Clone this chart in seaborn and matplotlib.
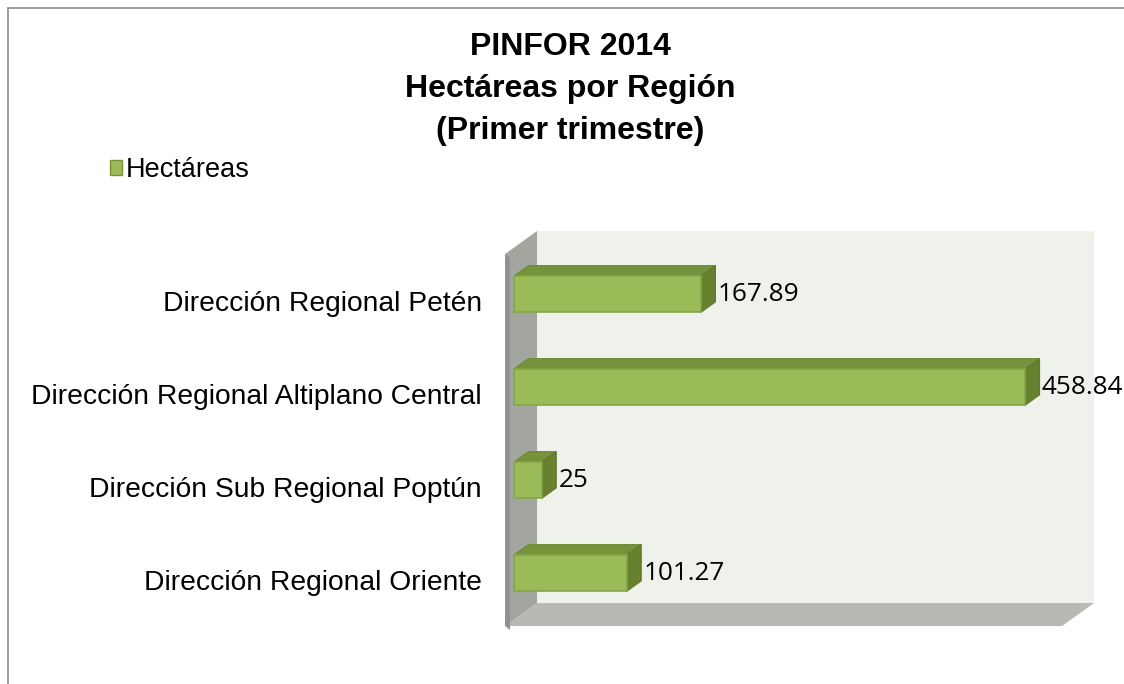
import matplotlib
matplotlib.use("Agg")
import matplotlib.pyplot as plt
import matplotlib.transforms as mtransforms
from matplotlib.patches import Polygon, Patch
from matplotlib.lines import Line2D
import seaborn as sns
import pandas as pd

# ---- data ----
regions = [
    "Dirección Regional Petén",
    "Dirección Regional Altiplano Central",
    "Dirección Sub Regional Poptún",
    "Dirección Regional Oriente",
]
hectareas = [167.89, 458.84, 25, 101.27]
value_labels = ["167.89", "458.84", "25", "101.27"]
series_name = "Hectáreas"
title_lines = ["PINFOR 2014", "Hectáreas por Región", "(Primer trimestre)"]
x_max = 500

# ---- style ----
sns.set_theme(style="white")
plt.rcParams['font.family'] = ['Liberation Sans', 'DejaVu Sans']
plt.rcParams['text.color'] = 'black'
plt.rcParams['ytick.color'] = 'black'
plt.rcParams['axes.labelcolor'] = 'black'

W, H = 1124, 684
DPI = 100
fig = plt.figure(figsize=(W / DPI, H / DPI), dpi=DPI)
fig.patch.set_facecolor("white")

# axes = plane of bar front faces (pixel layout)
left_px, right_px = 514, 1071
top_px, bot_px = 247.6, 619.6
ax = fig.add_axes([left_px / W, 1 - bot_px / H,
                   (right_px - left_px) / W, (bot_px - top_px) / H])

df = pd.DataFrame({"region": regions, "value": hectareas})
sns.barplot(data=df, x="value", y="region", orient="h", color="#9BBB59",
            saturation=1, width=0.39, edgecolor="#86A64A", linewidth=1.2,
            ax=ax, zorder=5)
ax.set_xlim(0, x_max)
ax.set_ylim(3.5, -0.5)
ax.set_xlabel("")
ax.set_ylabel("")
ax.set_xticks([])
for s in ax.spines.values():
    s.set_visible(False)
ax.set_facecolor("none")
ax.tick_params(axis="y", length=0, pad=23, labelsize=20.3, labelcolor="black")

bars = list(ax.patches)

# depth vector (display px) for the full chart depth; front-face plane at 0.28
DX, DY = 32.0, 23.0
f_front = 0.28
bdepth = 0.45
to_disp = ax.transData.transform

# category labels sit on the front plane of the chart
lab_shift = mtransforms.Affine2D().translate(0, -f_front * DY)
for t in ax.get_yticklabels():
    t.set_transform(t.get_transform() + lab_shift)

# walls
(x0d, y_top), = to_disp([(0, -0.5)])
(x1d, y_bot), = to_disp([(x_max, 3.5)])
bx_back, by_back = (1 - f_front) * DX, (1 - f_front) * DY
fx, fy = -f_front * DX, -f_front * DY
ident = mtransforms.IdentityTransform()

back = Polygon([(x0d + bx_back, y_bot + by_back), (x1d + bx_back, y_bot + by_back),
                (x1d + bx_back, y_top + by_back), (x0d + bx_back, y_top + by_back)],
               closed=True, facecolor="#EFF1EB", edgecolor="none",
               transform=ident, clip_on=False, zorder=0.1)
floor = Polygon([(x0d + fx, y_bot + fy), (x1d + fx, y_bot + fy),
                 (x1d + bx_back, y_bot + by_back), (x0d + bx_back, y_bot + by_back)],
                closed=True, facecolor="#B7B9B3", edgecolor="none",
                transform=ident, clip_on=False, zorder=0.2)
side = Polygon([(x0d + fx, y_bot + fy), (x0d + bx_back, y_bot + by_back),
                (x0d + bx_back, y_top + by_back), (x0d + fx, y_top + fy)],
               closed=True, facecolor="#A3A59F", edgecolor="none",
               transform=ident, clip_on=False, zorder=0.3)
side_edge = Polygon([(x0d + fx, y_bot + fy), (x0d + fx + 5, y_bot + fy - 4),
                     (x0d + fx + 5, y_top + fy - 4), (x0d + fx, y_top + fy)],
                    closed=True, facecolor="#8F918B", edgecolor="none",
                    transform=ident, clip_on=False, zorder=0.35)
for p in (back, floor, side, side_edge):
    ax.add_patch(p)

# 3D faces of bars
bdx, bdy = bdepth * DX, bdepth * DY
for p in bars:
    (xa, ya), (xb, yb) = to_disp([(p.get_x(), p.get_y()),
                                  (p.get_x() + p.get_width(), p.get_y() + p.get_height())])
    xl, xr = min(xa, xb), max(xa, xb)
    ylo, yhi = min(ya, yb), max(ya, yb)
    top = Polygon([(xl, yhi), (xr, yhi), (xr + bdx, yhi + bdy), (xl + bdx, yhi + bdy)],
                  closed=True, facecolor="#76933C", edgecolor="#6E8A36", linewidth=0.8,
                  transform=ident, clip_on=False, zorder=4)
    rside = Polygon([(xr, ylo), (xr, yhi), (xr + bdx, yhi + bdy), (xr + bdx, ylo + bdy)],
                    closed=True, facecolor="#67812F", edgecolor="#5F782B", linewidth=0.8,
                    transform=ident, clip_on=False, zorder=4)
    ax.add_patch(top)
    ax.add_patch(rside)
    p.set_clip_on(False)

# data labels
for i, (v, lab) in enumerate(zip(hectareas, value_labels)):
    ax.annotate(lab, xy=(v, i), xytext=((bdx + 2) * 72 / DPI, 0),
                textcoords="offset points", ha="left", va="center",
                fontsize=18.8, family=["Open Sans", "DejaVu Sans"], color="black",
                annotation_clip=False, zorder=6)

# title
fig.text(570 / W, 1 - 32 / H, "\n".join(title_lines), ha="center", va="top",
         fontsize=23, fontweight="bold", linespacing=1.52, color="black")

# legend
handle = Patch(facecolor="#9BBB59", edgecolor="#76933C", linewidth=1)
fig.legend(handles=[handle], labels=[series_name], loc="center left",
           bbox_to_anchor=(110 / W, 1 - 170 / H), frameon=False,
           fontsize=19.5, handlelength=0.45, handleheight=0.45,
           handletextpad=0.12, borderaxespad=0, borderpad=0,
           labelcolor="black")

# chart border (top and left visible)
fig.add_artist(Line2D([8 / W, 1], [1 - 8 / H, 1 - 8 / H], transform=fig.transFigure,
                      color="#8C8C8C", linewidth=1.2))
fig.add_artist(Line2D([8 / W, 8 / W], [0, 1 - 8 / H], transform=fig.transFigure,
                      color="#8C8C8C", linewidth=1.2))

fig.savefig("out.png", dpi=DPI, facecolor="white")
